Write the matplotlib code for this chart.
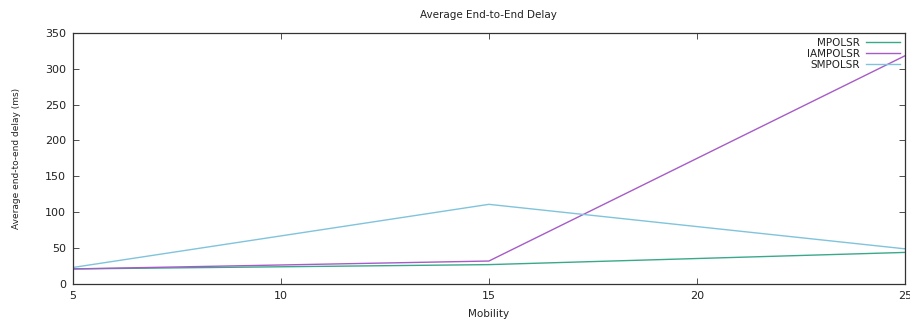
import matplotlib
matplotlib.use('Agg')
import matplotlib.pyplot as plt
from matplotlib import font_manager

# mobility values and average delay (ms) for each protocol
mobility = [5, 15, 25]
mpolsr = [21, 27, 44]
iampolsr = [21, 32, 318]
smpolsr = [23, 111, 49]

plt.rcParams['font.family'] = ['DejaVu Sans']

# narrow font for the y label if one is around
names = set(f.name for f in font_manager.fontManager.ttflist)
narrow = 'Liberation Sans Narrow' if 'Liberation Sans Narrow' in names else 'DejaVu Sans'

fig = plt.figure(figsize=(9.1, 3.2), dpi=100)
ax = fig.add_axes([0.080, 0.1125, 0.9145, 0.785])

ax.plot(mobility, mpolsr, color='#3aa88a', lw=1.0, label='MPOLSR')
ax.plot(mobility, iampolsr, color='#a65cc6', lw=1.0, label='IAMPOLSR')
ax.plot(mobility, smpolsr, color='#80c4dc', lw=1.0, label='SMPOLSR')

ax.set_xlim(5, 25)
ax.set_ylim(0, 350)
ax.set_xticks([5, 10, 15, 20, 25])
ax.set_yticks(range(0, 351, 50))
ax.tick_params(direction='in', top=True, right=True, labelsize=8, length=4,
               width=0.6, colors='#333333', labelcolor='#222222', pad=5)
for s in ax.spines.values():
    s.set_linewidth(0.9)
    s.set_color('#333333')

ax.set_title('Average End-to-End Delay', fontsize=7.5, color='#222222', pad=11)
ax.set_xlabel('Mobility', fontsize=7.5, color='#222222', labelpad=6)
ax.set_ylabel('Average end-to-end delay (ms)', fontsize=8 if narrow != 'DejaVu Sans' else 6.5,
              color='#222222', labelpad=17, family=[narrow, 'DejaVu Sans'])

ax.legend(loc='upper right', frameon=False, markerfirst=False, fontsize=7.5,
          handlelength=3.2, handletextpad=0.6, labelspacing=0.1,
          borderaxespad=0.1, labelcolor='#222222')

fig.savefig('out.png', dpi=100)
